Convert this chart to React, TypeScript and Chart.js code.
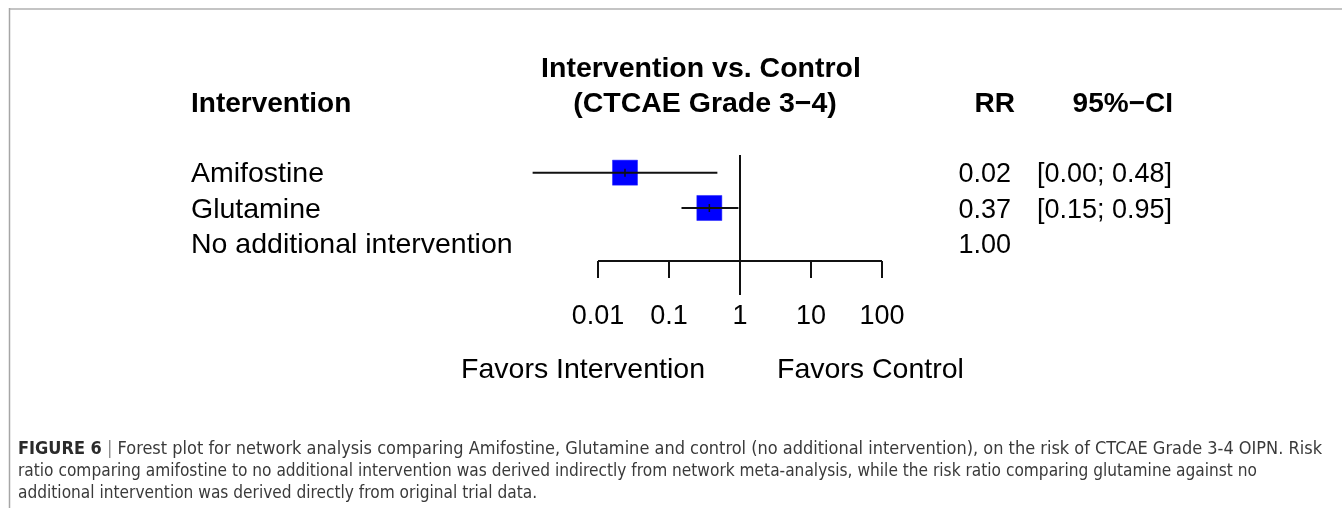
import React, { useEffect, useRef } from "react";
import { Chart, registerables } from "chart.js";

Chart.register(...registerables);

const interventions = ["Amifostine", "Glutamine", "No additional intervention"];
const rr = [0.024, 0.37, 1.0];
const ciLower = [0.0012, 0.15, null];
const ciUpper = [0.48, 0.95, null];
const showSquare = [true, true, false];
const rrLabels = ["0.02", "0.37", "1.00"];
const ciLabels = ["[0.00; 0.48]", "[0.15; 0.95]", ""];
const xTicks = [0.01, 0.1, 1, 10, 100];
const xTickLabels = ["0.01", "0.1", "1", "10", "100"];
const headerLeft = "Intervention";
const headerTitle = ["Intervention vs. Control", "(CTCAE Grade 3\u22124)"];
const headerRR = "RR";
const headerCI = "95%\u2212CI";
const favorsLeft = "Favors Intervention";
const favorsRight = "Favors Control";
const captionLead = "FIGURE 6";
const captionLines = [
  "Forest plot for network analysis comparing Amifostine, Glutamine and control (no additional intervention), on the risk of CTCAE Grade 3-4 OIPN. Risk",
  "ratio comparing amifostine to no additional intervention was derived indirectly from network meta-analysis, while the risk ratio comparing glutamine against no",
  "additional intervention was derived directly from original trial data.",
];

const SANS = '"Liberation Sans", Arial, Helvetica, sans-serif';
const NARROW = '"Liberation Sans Narrow", "DejaVu Sans Condensed", "Liberation Sans", sans-serif';

const forestPlugin = {
  id: "forestDecor",
  afterDatasetsDraw(chart: any) {
    const ctx = chart.ctx as CanvasRenderingContext2D;
    const xs = chart.scales.x;
    const ys = chart.scales.y;
    const area = chart.chartArea;
    ctx.save();
    ctx.strokeStyle = "#111";
    ctx.lineCap = "butt";
    rr.forEach((v, i) => {
      const lo = ciLower[i];
      const hi = ciUpper[i];
      if (lo == null || hi == null) return;
      const y = ys.getPixelForValue(i);
      ctx.lineWidth = 2;
      ctx.beginPath();
      ctx.moveTo(xs.getPixelForValue(lo), y);
      ctx.lineTo(xs.getPixelForValue(hi), y);
      ctx.stroke();
      const px = xs.getPixelForValue(v);
      ctx.lineWidth = 1.5;
      ctx.beginPath();
      ctx.moveTo(px, y - 4);
      ctx.lineTo(px, y + 4);
      ctx.stroke();
    });
    const x1 = xs.getPixelForValue(1);
    ctx.lineWidth = 2;
    ctx.beginPath();
    ctx.moveTo(x1, area.top);
    ctx.lineTo(x1, area.bottom + 34);
    ctx.stroke();
    const xa = xs.getPixelForValue(xTicks[0]);
    const xb = xs.getPixelForValue(xTicks[xTicks.length - 1]);
    ctx.beginPath();
    ctx.moveTo(xa, area.bottom);
    ctx.lineTo(xb, area.bottom);
    ctx.stroke();
    xTicks.forEach((t) => {
      const px = xs.getPixelForValue(t);
      ctx.beginPath();
      ctx.moveTo(px, area.bottom);
      ctx.lineTo(px, area.bottom + 17);
      ctx.stroke();
    });
    ctx.restore();
  },
  afterDraw(chart: any) {
    const ctx = chart.ctx as CanvasRenderingContext2D;
    const xs = chart.scales.x;
    const ys = chart.scales.y;
    const area = chart.chartArea;
    const W = chart.width;
    const H = chart.height;
    ctx.save();
    ctx.strokeStyle = "#c4c4c4";
    ctx.lineWidth = 2;
    ctx.beginPath();
    ctx.moveTo(9, 9);
    ctx.lineTo(W, 9);
    ctx.stroke();
    ctx.strokeStyle = "#a6a6a6";
    ctx.lineWidth = 1.5;
    ctx.beginPath();
    ctx.moveTo(9.5, 8);
    ctx.lineTo(9.5, H);
    ctx.stroke();

    ctx.fillStyle = "#000";
    ctx.textBaseline = "alphabetic";
    ctx.font = `bold 28px ${SANS}`;
    ctx.textAlign = "left";
    ctx.fillText(headerLeft, 191, 112);
    ctx.font = `bold 28.5px ${SANS}`;
    ctx.textAlign = "center";
    ctx.fillText(headerTitle[0], 701, 77);
    ctx.fillText(headerTitle[1], 705, 112);
    ctx.font = `bold 28px ${SANS}`;
    ctx.textAlign = "right";
    ctx.fillText(headerRR, 1015, 112);
    ctx.fillText(headerCI, 1173, 112);

    interventions.forEach((name, i) => {
      const y = ys.getPixelForValue(i) + 9.5;
      ctx.font = `28.5px ${SANS}`;
      ctx.textAlign = "left";
      ctx.fillText(name, 191, y);
      ctx.font = `27px ${SANS}`;
      ctx.textAlign = "right";
      ctx.fillText(rrLabels[i], 1011, y);
      if (ciLabels[i]) ctx.fillText(ciLabels[i], 1172, y);
    });

    ctx.font = `27px ${SANS}`;
    ctx.textAlign = "center";
    xTicks.forEach((t, i) => {
      ctx.fillText(xTickLabels[i], xs.getPixelForValue(t), area.bottom + 63);
    });

    const x1 = xs.getPixelForValue(1);
    ctx.font = `28.5px ${SANS}`;
    ctx.textAlign = "right";
    ctx.fillText(favorsLeft, x1 - 35, area.bottom + 117);
    ctx.textAlign = "left";
    ctx.fillText(favorsRight, x1 + 37, area.bottom + 117);

    // caption: each line stretched to the reference line end
    const capX = 18;
    const capEnds = [1322, 1257];
    const capY = [454, 476, 498];
    const boldFont = `bold 17.5px ${NARROW}`;
    const normFont = `17.5px ${NARROW}`;
    ctx.textAlign = "left";
    ctx.font = boldFont;
    const leadW = ctx.measureText(captionLead).width;
    ctx.font = normFont;
    const sepW = ctx.measureText(" | ").width;
    const w0 = leadW + sepW + ctx.measureText(captionLines[0]).width;
    const w1 = ctx.measureText(captionLines[1]).width;
    const s0 = (capEnds[0] - capX) / w0;
    const s1 = (capEnds[1] - capX) / w1;

    ctx.save();
    ctx.translate(capX, 0);
    ctx.scale(s0, 1);
    ctx.font = boldFont;
    ctx.fillStyle = "#2b2b2b";
    ctx.fillText(captionLead, 0, capY[0]);
    ctx.font = normFont;
    ctx.fillStyle = "#8a8a8a";
    ctx.fillText(" | ", leadW, capY[0]);
    ctx.fillStyle = "#3a3a3a";
    ctx.fillText(captionLines[0], leadW + sepW, capY[0]);
    ctx.restore();

    ctx.save();
    ctx.translate(capX, 0);
    ctx.scale(s1, 1);
    ctx.font = normFont;
    ctx.fillStyle = "#3a3a3a";
    ctx.fillText(captionLines[1], 0, capY[1]);
    ctx.fillText(captionLines[2], 0, capY[2]);
    ctx.restore();

    ctx.restore();
  },
};

export default function App() {
  const ref = useRef<HTMLCanvasElement | null>(null);
  useEffect(() => {
    document.body.style.margin = "0";
    const canvas = ref.current;
    if (!canvas) return;
    const points = rr
      .map((v, i) => ({ x: v, y: i, show: showSquare[i] }))
      .filter((p) => p.show)
      .map((p) => ({ x: p.x, y: p.y }));
    const chart = new Chart(canvas, {
      type: "scatter",
      data: {
        datasets: [
          {
            data: points,
            pointStyle: "rect",
            pointRadius: 17.7,
            pointHoverRadius: 17.7,
            backgroundColor: "#0000ff",
            borderColor: "#2020ff",
            borderWidth: 0.5,
          },
        ],
      },
      options: {
        animation: false,
        responsive: false,
        maintainAspectRatio: false,
        events: [],
        layout: { padding: { left: 598, right: 460, top: 155, bottom: 247 } },
        scales: {
          x: { type: "logarithmic", min: 0.01, max: 100, display: false },
          y: { type: "linear", min: -0.5, max: 2.5, reverse: true, display: false },
        },
        plugins: { legend: { display: false }, tooltip: { enabled: false } },
      },
      plugins: [forestPlugin],
    });
    return () => chart.destroy();
  }, []);
  return (
    <div style={{ width: 1342, height: 508, background: "#fff" }}>
      <canvas ref={ref} width={1342} height={508} style={{ display: "block" }} />
    </div>
  );
}
